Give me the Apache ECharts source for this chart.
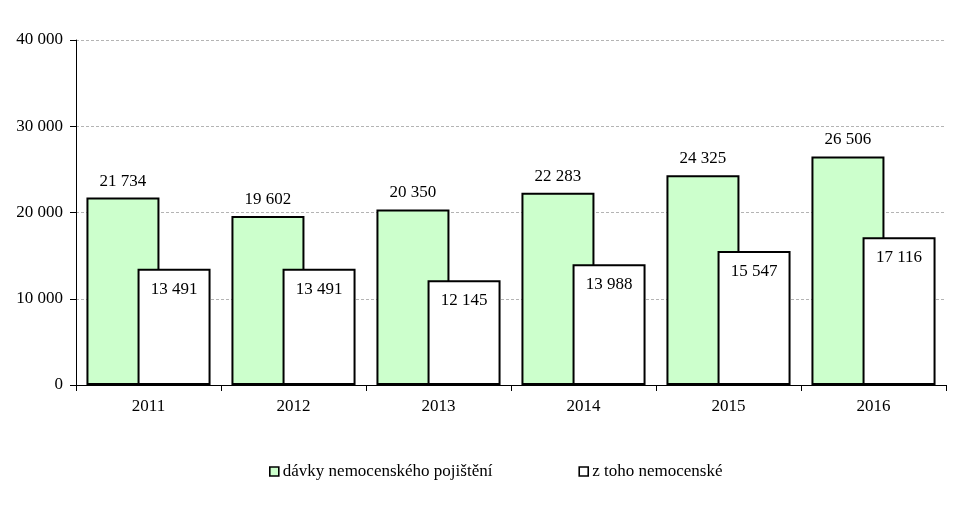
<!DOCTYPE html>
<html><head><meta charset="utf-8">
<script src="https://cdn.jsdelivr.net/npm/echarts@6/dist/echarts.min.js"></script>
<style>html,body{margin:0;padding:0;background:#fff}#c{width:980px;height:521px}</style>
</head><body><div id="c"></div>
<script>
var categories = ['2011','2012','2013','2014','2015','2016'];
var davky = [21734, 19602, 20350, 22283, 24325, 26506];
var nemocenske = [13491, 13491, 12145, 13988, 15547, 17116];
var yTicks = [0, 10000, 20000, 30000, 40000];
var seriesNames = ['dávky nemocenského pojištění', 'z toho nemocenské'];

function fmt(v){ return String(v).replace(/\B(?=(\d{3})+(?!\d))/g, ' '); }
var font = 'Liberation Serif';
var fs = 17;
var chart = echarts.init(document.getElementById('c'));
chart.setOption({
  animation:false,
  textStyle:{fontFamily:font},
  grid:{left:76, right:34, top:40, bottom:136},
  xAxis:{type:'category', data:categories,
    axisLine:{lineStyle:{color:'#000', width:1}},
    axisTick:{show:true, length:6, lineStyle:{color:'#000'}},
    axisLabel:{color:'#000', fontSize:fs, fontFamily:font, margin:13}},
  yAxis:{type:'value', min:yTicks[0], max:yTicks[yTicks.length-1], interval:10000,
    axisLine:{show:true, lineStyle:{color:'#000'}},
    axisTick:{show:true, length:6, lineStyle:{color:'#000'}},
    splitLine:{lineStyle:{color:'#b4b4b4', type:[3,2], width:1}},
    axisLabel:{color:'#000', fontSize:fs, fontFamily:font, margin:13, formatter:function(v){return fmt(v);}}},
  legend:{left:264, top:458, itemGap:86, itemWidth:9, itemHeight:9, icon:'rect',
    textStyle:{color:'#000', fontSize:fs, fontFamily:font, padding:[0,0,0,-1]},
    data:[{name:seriesNames[0], itemStyle:{borderWidth:1.6, borderColor:'#000', color:'#ccffcc'}},
          {name:seriesNames[1], itemStyle:{borderWidth:1.6, borderColor:'#000', color:'#fff'}}]},
  series:[
    {name:seriesNames[0], type:'bar', data:davky, barWidth:73, barGap:'-30%',
      itemStyle:{color:'#ccffcc', borderColor:'#000', borderWidth:2},
      label:{show:true, position:'top', distance:8, color:'#000', fontSize:fs, fontFamily:font, formatter:function(p){return fmt(p.value);}}},
    {name:seriesNames[1], type:'bar', data:nemocenske, barWidth:73, barGap:'-30%',
      itemStyle:{color:'#fff', borderColor:'#000', borderWidth:2},
      label:{show:true, position:'insideTop', distance:12, color:'#000', fontSize:fs, fontFamily:font, formatter:function(p){return fmt(p.value);}}}
  ]
});
</script></body></html>
